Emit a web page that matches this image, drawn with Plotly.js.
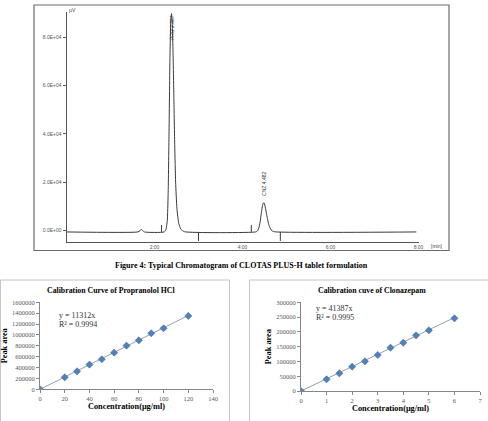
<!DOCTYPE html>
<html>
<head>
<meta charset="utf-8">
<script src="https://cdn.plot.ly/plotly-3.0.1.min.js"></script>
<style>html,body{margin:0;padding:0;background:#fff;}#chart{width:488px;height:421px;}</style>
</head>
<body>
<div id="chart"></div>
<script>
// ---------- Chromatogram data (time in min, signal in µV) ----------
const chromTime = [0, 1.62, 1.67, 1.70, 1.73, 1.77, 2.22, 2.26, 2.29, 2.31, 2.33, 2.35, 2.37, 2.387, 2.40, 2.42, 2.44, 2.46, 2.48, 2.51, 2.55, 2.60, 2.68, 4.30, 4.34, 4.37, 4.40, 4.43, 4.46, 4.482, 4.50, 4.53, 4.56, 4.59, 4.62, 4.66, 4.72, 7.95];
const chromSignal = [-600, -600, -100, 500, 0, -600, -600, 500, 4000, 15000, 40000, 70000, 87000, 89800, 87500, 75000, 55000, 35000, 20000, 9000, 3000, 500, -500, -600, -200, 1000, 3500, 7500, 10800, 11500, 11000, 8500, 5500, 3000, 1300, 0, -500, -600];
const peakTimes = [2.387, 4.482];
const peakLabels = ["PRO 2.387", "CNZ 4.482"];
const eventTimes = [2.16, 3.0, 4.2, 4.86];
const eventDir = ["up", "down", "up", "down"];
const chromXTicks = [2, 4, 6, 8];
const chromXTickText = ["2:00", "4:00", "6:00", "8:00"];
const chromYTicks = [0, 20000, 40000, 60000, 80000];
const chromYTickText = ["0.0E+00", "2.0E+04", "4.0E+04", "6.0E+04", "8.0E+04"];

// ---------- Calibration: Propranolol HCl ----------
const propConc = [0, 20, 30, 40, 50, 60, 70, 80, 90, 100, 120];
const propArea = [0, 220000, 331000, 454000, 552000, 674000, 803000, 901000, 1030000, 1122000, 1349000];
const propSlope = 11312;
const propEq = ["y = 11312x", "R² = 0.9994"];

// ---------- Calibration: Clonazepam ----------
const cnzConc = [0, 1, 1.5, 2, 2.5, 3, 3.5, 4, 4.5, 5, 6];
const cnzArea = [0, 39500, 59800, 82300, 100400, 121800, 146600, 163500, 188300, 205300, 245900];
const cnzSlope = 41387;
const cnzEq = ["y = 41387x", "R² = 0.9995"];

// ---------- layout helpers ----------
const W = 488, H = 421;
const px = x => x / W;
const py = y => 1 - y / H;

// chromatogram y scale: 0 at 230.5px, 80000 at 37.3px
const perPx = 80000 / (230.5 - 37.3);
const chromYRange = [-(242 - 230.5) * perPx, (230.5 - 12) * perPx];
const baseLevel = chromSignal[0];

const traces = [];
traces.push({
  x: chromTime, y: chromSignal, xaxis: 'x', yaxis: 'y', type: 'scatter', mode: 'lines',
  line: {color: '#3a3a3a', width: 1, shape: 'spline', smoothing: 0.5}, hoverinfo: 'skip'
});
eventTimes.forEach((t, i) => {
  const len = (eventDir[i] === 'up' ? 7 : -9) * perPx;
  traces.push({
    x: [t, t], y: [baseLevel, baseLevel + len], xaxis: 'x', yaxis: 'y', type: 'scatter', mode: 'lines',
    line: {color: '#3a3a3a', width: 1}, hoverinfo: 'skip'
  });
});

// Propranolol
const propMax = propConc[propConc.length - 1];
traces.push({x: [0, propMax], y: [0, propSlope * propMax], xaxis: 'x2', yaxis: 'y2', type: 'scatter', mode: 'lines',
  line: {color: '#8a93a3', width: 0.9}, hoverinfo: 'skip'});
traces.push({x: propConc, y: propArea, xaxis: 'x2', yaxis: 'y2', type: 'scatter', mode: 'markers',
  marker: {symbol: 'diamond', size: 5.5, color: '#4F81BD', line: {color: '#3b6597', width: 0.5}}});
// Clonazepam
const cnzMax = cnzConc[cnzConc.length - 1];
traces.push({x: [0, cnzMax], y: [0, cnzSlope * cnzMax], xaxis: 'x3', yaxis: 'y3', type: 'scatter', mode: 'lines',
  line: {color: '#8a93a3', width: 0.9}, hoverinfo: 'skip'});
traces.push({x: cnzConc, y: cnzArea, xaxis: 'x3', yaxis: 'y3', type: 'scatter', mode: 'markers',
  marker: {symbol: 'diamond', size: 5.5, color: '#4F81BD', line: {color: '#3b6597', width: 0.5}}});

const sans = 'Liberation Sans, Arial, sans-serif';
const serif = 'Liberation Serif, Times New Roman, serif';
const chromTickFont = {family: sans, size: 5, color: '#555'};
const calTickFont = {family: serif, size: 6.5, color: '#595959'};
const calTitleFont = {family: serif, size: 8.3, color: '#000', weight: 'bold'};

function calAxis(domain, range, dtick, anchor, isY, titleText) {
  return {
    domain: domain, range: range, dtick: dtick, tick0: 0, anchor: anchor,
    showline: true, linecolor: '#868686', linewidth: 1,
    ticks: 'outside', ticklen: 3, tickcolor: '#868686', tickwidth: 1,
    showgrid: false, zeroline: false, tickfont: calTickFont, tickformat: 'd',
    title: {text: titleText, font: calTitleFont, standoff: isY ? 3 : 2}
  };
}

const annotations = [];
// peak labels
peakTimes.forEach((t, i) => {
  let best = 0, bestD = 1e9;
  chromTime.forEach((ct, j) => { const d = Math.abs(ct - t); if (d < bestD) { bestD = d; best = j; } });
  const apex = chromSignal[best];
  annotations.push({
    x: t, y: apex, xref: 'x', yref: 'y', text: peakLabels[i], showarrow: false, textangle: -90,
    font: {family: sans, size: 5, color: '#333'},
    yanchor: i === 0 ? 'top' : 'bottom', yshift: i === 0 ? 0 : 5, xshift: 0.5
  });
});
annotations.push({x: px(67), y: py(10), xref: 'paper', yref: 'paper', text: 'μV', showarrow: false,
  xanchor: 'left', yanchor: 'middle', font: {family: sans, size: 5, color: '#444'}});
annotations.push({x: px(436), y: py(246.5), xref: 'paper', yref: 'paper', text: '[min]', showarrow: false,
  xanchor: 'center', yanchor: 'middle', font: {family: sans, size: 5, color: '#444'}});
annotations.push({x: px(241.5), y: py(265.5), xref: 'paper', yref: 'paper',
  text: 'Figure 4: Typical Chromatogram of CLOTAS PLUS-H tablet formulation', showarrow: false,
  xanchor: 'center', yanchor: 'middle', font: {family: serif, size: 8, color: '#000', weight: 'bold'}});
annotations.push({x: px(111), y: py(290), xref: 'paper', yref: 'paper',
  text: 'Calibration Curve of Propranolol HCl', showarrow: false,
  xanchor: 'center', yanchor: 'middle', font: {family: serif, size: 7.8, color: '#000', weight: 'bold'}});
annotations.push({x: px(372), y: py(290), xref: 'paper', yref: 'paper',
  text: 'Calibration cuve of Clonazepam', showarrow: false,
  xanchor: 'center', yanchor: 'middle', font: {family: serif, size: 7.8, color: '#000', weight: 'bold'}});
// equations
propEq.forEach((s, i) => annotations.push({x: px(57), y: py(315 + 9 * i), xref: 'paper', yref: 'paper', text: s,
  showarrow: false, xanchor: 'left', yanchor: 'middle', font: {family: serif, size: 8, color: '#333'}}));
cnzEq.forEach((s, i) => annotations.push({x: px(314), y: py(308 + 9 * i), xref: 'paper', yref: 'paper', text: s,
  showarrow: false, xanchor: 'left', yanchor: 'middle', font: {family: serif, size: 8, color: '#333'}}));

const shapes = [
  {type: 'rect', xref: 'paper', yref: 'paper', x0: px(34), x1: px(449), y0: py(5), y1: py(250.5),
   line: {color: '#6b6b6b', width: 1.2}},
  {type: 'rect', xref: 'paper', yref: 'paper', x0: px(0.5), x1: px(229.5), y0: py(280), y1: py(430),
   line: {color: '#c4c4c4', width: 1}},
  {type: 'rect', xref: 'paper', yref: 'paper', x0: px(249.5), x1: px(495), y0: py(280), y1: py(430),
   line: {color: '#c4c4c4', width: 1}}
];

const layout = {
  width: W, height: H, margin: {l: 0, r: 0, t: 0, b: 0}, showlegend: false,
  paper_bgcolor: '#fff', plot_bgcolor: 'rgba(0,0,0,0)',
  xaxis: {domain: [px(66.5), px(418.5)], range: [0, 8], anchor: 'y', tickvals: chromXTicks, ticktext: chromXTickText,
    ticks: '', showline: true, linecolor: '#555', linewidth: 1, showgrid: false, zeroline: false, tickfont: chromTickFont},
  yaxis: {domain: [py(242), py(12)], range: chromYRange, anchor: 'x', tickvals: chromYTicks, ticktext: chromYTickText,
    ticks: 'outside', ticklen: 3, tickcolor: '#555', showline: true, linecolor: '#555', linewidth: 1,
    showgrid: false, zeroline: false, tickfont: chromTickFont},
  xaxis2: calAxis([px(40), px(213)], [0, 140], 20, 'y2', false, 'Concentration(μg/ml)'),
  yaxis2: calAxis([py(389.3), py(302.3)], [0, 1600000], 200000, 'x2', true, 'Peak area'),
  xaxis3: calAxis([px(301), px(480)], [0, 7], 1, 'y3', false, 'Concentration(μg/ml)'),
  yaxis3: calAxis([py(391), py(302.3)], [0, 300000], 50000, 'x3', true, 'Peak area'),
  annotations: annotations, shapes: shapes
};

Plotly.newPlot('chart', traces, layout, {staticPlot: true, displayModeBar: false});
</script>
</body>
</html>
